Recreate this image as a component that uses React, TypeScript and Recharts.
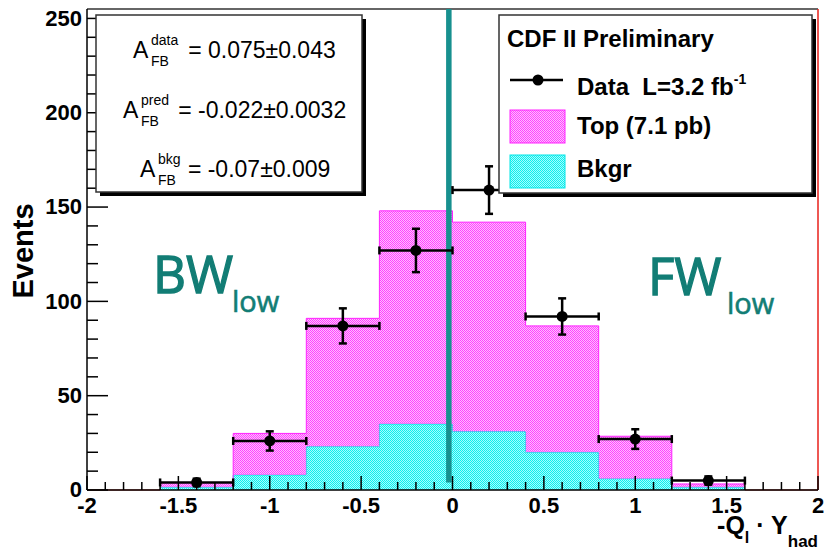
import {
  ComposedChart,
  Area,
  Scatter,
  ErrorBar,
  XAxis,
  YAxis,
  ReferenceLine,
} from "recharts";

// histogram bins: lower edges, last value closes the final bin
const binEdges = [-1.6, -1.2, -0.8, -0.4, 0, 0.4, 0.8, 1.2, 1.6];
const bkgr = [1.5, 8, 23, 35, 31, 20, 6, 1.5];
const topSignal = [2.5, 22, 68, 113, 111, 67, 22.5, 1.7];

// data points with errors
const dataX = [-1.4, -1, -0.6, -0.2, 0.2, 0.6, 1, 1.4];
const dataY = [4, 26, 87, 127, 159, 92, 27, 5];
const dataErr = [2, 5.1, 9.3, 11.5, 12.6, 9.6, 5.2, 2.2];
const binHalfWidth = 0.2;

const xMajor = [-2, -1.5, -1, -0.5, 0, 0.5, 1, 1.5, 2];
const yMajor = [0, 50, 100, 150, 200, 250];
const xTicks = Array.from({ length: 41 }, (_, i) => Math.round(-20 + i) / 10);
const yTicks = Array.from({ length: 26 }, (_, i) => i * 10);

const cutX = -0.02;

const histRows = binEdges.map((x, i) => ({
  x,
  bkgr: bkgr[Math.min(i, bkgr.length - 1)],
  top: topSignal[Math.min(i, topSignal.length - 1)],
}));

const points = dataX.map((x, i) => ({
  x,
  y: dataY[i],
  ey: dataErr[i],
  ex: binHalfWidth,
}));

const FONT = "'Liberation Sans', Arial, sans-serif";
const TEAL = "#127d75";

function XTick(props: any) {
  const { x, y, payload } = props;
  const v = payload.value;
  const major = xMajor.some((m) => Math.abs(m - v) < 1e-6);
  return (
    <g>
      <line x1={x} x2={x} y1={y} y2={y - (major ? 14 : 8)} stroke="#000" strokeWidth={1.5} />
      {major && (
        <text x={x} y={y + 23} textAnchor="middle" fontFamily={FONT} fontWeight="bold" fontSize={22} fill="#000">
          {String(v)}
        </text>
      )}
    </g>
  );
}

function YTick(props: any) {
  const { x, y, payload } = props;
  const v = payload.value;
  const major = yMajor.includes(v);
  return (
    <g>
      <line x1={x} x2={x + (major ? 21 : 11)} y1={y} y2={y} stroke="#000" strokeWidth={1.5} />
      {major && (
        <text x={x - 5} y={y} dy="0.33em" textAnchor="end" fontFamily={FONT} fontWeight="bold" fontSize={22} fill="#000">
          {v}
        </text>
      )}
    </g>
  );
}

function AsymRow({ x, y, sup, value }: { x: number; y: number; sup: string; value: string }) {
  return (
    <g fontFamily={FONT} fill="#000">
      <text x={x} y={y} fontSize={23}>A</text>
      <text x={x + 18} y={y - 13} fontSize={14}>{sup}</text>
      <text x={x + 18} y={y + 8} fontSize={14}>FB</text>
      <text x={x + 18 + sup.length * 7.3 + 8} y={y} fontSize={23}>{"= " + value}</text>
    </g>
  );
}

export default function App() {
  return (
    <div style={{ position: "absolute", left: 0, top: 0, width: 825, height: 553, background: "#fff" }}>
      <ComposedChart
        width={825}
        height={553}
        data={histRows}
        margin={{ top: 9, right: 7, bottom: 0, left: 0 }}
      >
        <XAxis
          type="number"
          dataKey="x"
          domain={[-2, 2]}
          allowDataOverflow
          ticks={xTicks}
          interval={0}
          height={63}
          tickSize={0}
          tickMargin={0}
          tick={<XTick />}
          axisLine={{ stroke: "#000", strokeWidth: 1.5 }}
        />
        <YAxis
          type="number"
          domain={[0, 255]}
          allowDataOverflow
          ticks={yTicks}
          interval={0}
          width={87}
          tickSize={0}
          tickMargin={0}
          tick={<YTick />}
          axisLine={{ stroke: "#000", strokeWidth: 1.5 }}
        />
        <Area
          type="stepAfter"
          dataKey="bkgr"
          stackId="h"
          stroke="#00e6e6"
          strokeWidth={1}
          fill="url(#cyanFill)"
          fillOpacity={1}
          isAnimationActive={false}
        />
        <Area
          type="stepAfter"
          dataKey="top"
          stackId="h"
          stroke="#ff22ff"
          strokeWidth={1}
          fill="url(#pinkFill)"
          fillOpacity={1}
          isAnimationActive={false}
        />
        <ReferenceLine y={255} stroke="#333" strokeWidth={1.5} />
        <ReferenceLine x={2} stroke="#e8201a" strokeWidth={1.5} />
        <ReferenceLine
          segment={[{ x: -2, y: 0 }, { x: -1.6, y: 0 }]}
          stroke="#e8201a"
          strokeWidth={1}
        />
        <ReferenceLine
          segment={[{ x: 1.6, y: 0 }, { x: 2, y: 0 }]}
          stroke="#e8201a"
          strokeWidth={1}
        />
        <ReferenceLine
          segment={[{ x: cutX, y: 4 }, { x: cutX, y: 255 }]}
          stroke="#17908f"
          strokeWidth={5.5}
        />
        <Scatter
          data={points}
          dataKey="y"
          fill="#000"
          isAnimationActive={false}
          shape={(p: any) => <circle cx={p.cx} cy={p.cy} r={5.5} fill="#000" />}
        >
          <ErrorBar dataKey="ey" direction="y" width={4} stroke="#000" strokeWidth={2.5} />
          <ErrorBar dataKey="ex" direction="x" width={4} stroke="#000" strokeWidth={2.5} />
        </Scatter>
      </ComposedChart>

      <svg
        width={825}
        height={553}
        style={{ position: "absolute", left: 0, top: 0, pointerEvents: "none" }}
      >
        <defs>
          <pattern id="pinkFill" width="2" height="2" patternUnits="userSpaceOnUse">
            <rect width="2" height="2" fill="#ff88ff" fillOpacity={0.55} />
            <rect x="0" y="0" width="1" height="1" fill="#ff44ff" />
            <rect x="1" y="1" width="1" height="1" fill="#ff44ff" />
          </pattern>
          <pattern id="cyanFill" width="2" height="2" patternUnits="userSpaceOnUse">
            <rect width="2" height="2" fill="#55ffff" fillOpacity={0.55} />
            <rect x="0" y="0" width="1" height="1" fill="#11ecec" />
            <rect x="1" y="1" width="1" height="1" fill="#11ecec" />
          </pattern>
        </defs>

        {/* asymmetry box */}
        <rect x={100} y={19} width={266} height={177} fill="#000" />
        <rect x={96} y={15} width={266} height={177} fill="#fff" stroke="#333" strokeWidth={1.5} />
        <AsymRow x={133} y={58} sup="data" value="0.075±0.043" />
        <AsymRow x={123} y={118} sup="pred" value="-0.022±0.0032" />
        <AsymRow x={140} y={177} sup="bkg" value="-0.07±0.009" />

        {/* legend box */}
        <rect x={503} y={19} width={313} height={178} fill="#000" />
        <rect x={499} y={15} width={313} height={178} fill="#fff" stroke="#333" strokeWidth={1.5} />
        <g fontFamily={FONT} fontWeight="bold" fill="#000">
          <text x={507} y={47} fontSize={24}>CDF II Preliminary</text>
          <line x1={510} x2={563} y1={80} y2={80} stroke="#000" strokeWidth={2.5} />
          <circle cx={538} cy={80} r={5.5} fill="#000" />
          <text x={577} y={95} fontSize={24} xmlSpace="preserve">
            Data  L=3.2 fb<tspan fontSize={14} dy={-11}>-1</tspan>
          </text>
          <rect x={510} y={110} width={55} height={33} fill="url(#pinkFill)" stroke="#ff22ff" strokeWidth={1} />
          <text x={577} y={134} fontSize={24}>Top (7.1 pb)</text>
          <rect x={510} y={155} width={55} height={33} fill="url(#cyanFill)" stroke="#00e6e6" strokeWidth={1} />
          <text x={577} y={177} fontSize={24}>Bkgr</text>
        </g>

        {/* region labels */}
        <g fontFamily="'Open Sans', 'DejaVu Sans', sans-serif" fill={TEAL} stroke={TEAL}>
          <text x={153} y={293} fontSize={51} strokeWidth={1.3}>BW</text>
          <text x={232} y={312} fontSize={29} strokeWidth={0.6}>low</text>
          <text x={648} y={295} fontSize={51} strokeWidth={1.3}>FW</text>
          <text x={727} y={314} fontSize={29} strokeWidth={0.6}>low</text>
        </g>

        {/* axis titles */}
        <text
          transform="translate(33,251) rotate(-90)"
          textAnchor="middle"
          fontFamily={FONT}
          fontWeight="bold"
          fontSize={29}
          fill="#000"
        >
          Events
        </text>
        <text x={818} y={534} textAnchor="end" fontFamily={FONT} fontWeight="bold" fontSize={25} fill="#000" xmlSpace="preserve">
          -Q<tspan fontSize={16} dy={9}>l</tspan>
          <tspan dy={-9}> · Y</tspan>
          <tspan fontSize={17} dy={13}>had</tspan>
        </text>
      </svg>
    </div>
  );
}
